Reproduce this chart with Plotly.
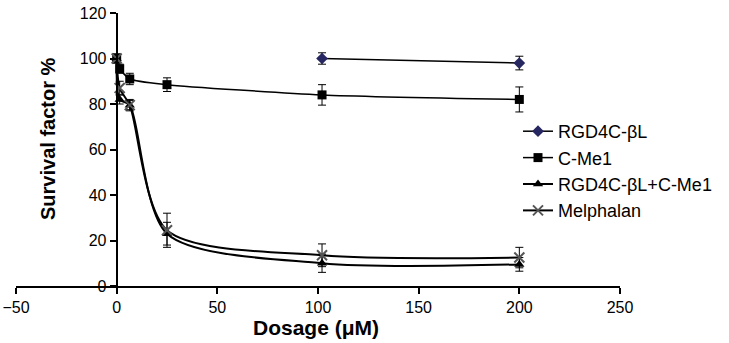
import plotly.graph_objects as go

# ---- data ----
dose = [0, 1.5, 6.5, 25, 102, 200]
rgd_dose = [102, 200]
rgd_vals = [100, 98]
rgd_err = [2.5, 3]
cme1_vals = [100, 95.5, 91, 88.5, 84, 82]
cme1_err = [1.5, 2, 2.5, 3, 4.5, 5.5]
combo_vals = [100, 82, 79.5, 23, 10, 9.5]
combo_err = [2, 2, 2, 5, 4, 3]
melph_vals = [100, 87, 79.5, 24.5, 13.5, 12.5]
melph_err = [2, 3, 2.5, 7.5, 5, 4.5]

x_ticks = [-50, 0, 50, 100, 150, 200, 250]
y_ticks = [0, 20, 40, 60, 80, 100, 120]

FONT = "Liberation Sans, Arial, sans-serif"

fig = go.Figure()

def err(vals):
    return dict(type="data", array=vals, color="black", thickness=1, width=4)

fig.add_trace(go.Scatter(
    x=rgd_dose, y=rgd_vals, name="RGD4C-\u03b2L", mode="lines+markers",
    line=dict(color="black", width=1.5),
    marker=dict(symbol="diamond", size=9, color="#262660"),
    error_y=err(rgd_err), cliponaxis=False))
fig.add_trace(go.Scatter(
    x=dose, y=cme1_vals, name="C-Me1", mode="lines+markers",
    line=dict(color="black", width=1.5, shape="spline", smoothing=0.6),
    marker=dict(symbol="square", size=9, color="black"),
    error_y=err(cme1_err), cliponaxis=False))
fig.add_trace(go.Scatter(
    x=dose, y=combo_vals, name="RGD4C-\u03b2L+C-Me1", mode="lines+markers",
    line=dict(color="black", width=2, shape="spline", smoothing=0.8),
    marker=dict(symbol="triangle-up", size=9, color="black"),
    error_y=err(combo_err), cliponaxis=False))
fig.add_trace(go.Scatter(
    x=dose, y=melph_vals, name="Melphalan", mode="lines+markers",
    line=dict(color="black", width=2, shape="spline", smoothing=0.8),
    marker=dict(symbol="x-thin", size=10, color="#666666",
                line=dict(color="#555555", width=2)),
    error_y=err(melph_err), cliponaxis=False))

fig.update_layout(
    width=729, height=343,
    margin=dict(l=16, r=109, t=13, b=57),
    paper_bgcolor="white", plot_bgcolor="white",
    font=dict(family=FONT, size=16, color="black"),
    showlegend=True,
    legend=dict(x=(518-16)/604, y=(286-113)/273, xanchor="left", yanchor="top",
                font=dict(size=18, family=FONT), bgcolor="rgba(0,0,0,0)",
                tracegroupgap=0),
    xaxis=dict(range=[-50, 250], tickvals=x_ticks, showgrid=False,
               zeroline=False, showline=True, linecolor="black", linewidth=2,
               ticks="outside", ticklen=6, tickwidth=1.5, tickcolor="black",
               tickfont=dict(size=16), automargin=False,
               ticklabeloverflow="allow"),
    yaxis=dict(range=[0, 120], tickvals=y_ticks, showgrid=False,
               zeroline=False, showline=True, linecolor="black", linewidth=2,
               ticks="outside", ticklen=6, tickwidth=1.5, tickcolor="black",
               anchor="free", position=50/300, tickfont=dict(size=16),
               automargin=False, ticklabeloverflow="allow"),
    annotations=[
        dict(text="<b>Survival factor %</b>", xref="paper", yref="paper",
             x=(48-16)/604, y=(286-139)/273, showarrow=False, textangle=-90,
             font=dict(size=20), xanchor="center", yanchor="middle"),
        dict(text="<b>Dosage (\u03bcM)</b>", xref="paper", yref="paper",
             x=(316-16)/604, y=-(327-286)/273, showarrow=False,
             font=dict(size=21), xanchor="center", yanchor="middle"),
    ],
)

# remove the default page margin so the figure fills the window exactly
fig.write_html("out.html",
               config={"displayModeBar": False},
               post_script="document.body.style.margin='0px';"
                           "document.body.style.padding='0px';")
